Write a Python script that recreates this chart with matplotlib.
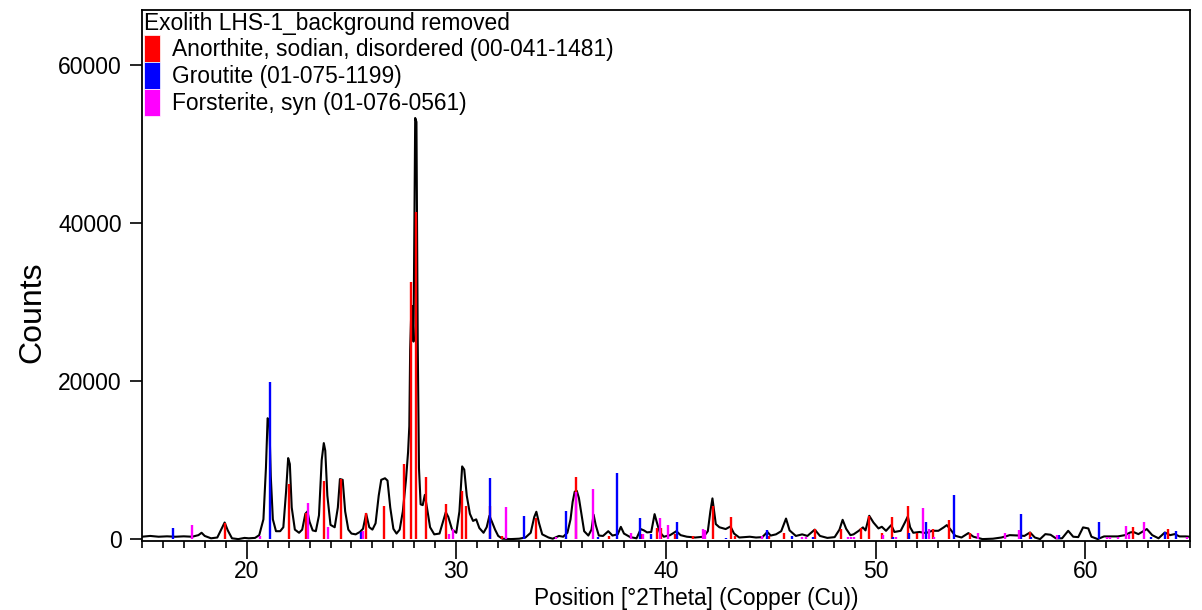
import matplotlib.pyplot as plt
from matplotlib.patches import Patch
from matplotlib.ticker import MultipleLocator

plt.rcParams['font.family'] = ['Liberation Sans', 'DejaVu Sans']

# ---------- measured pattern (2theta, counts) ----------
two_theta = [15.0, 15.4, 15.8, 16.2, 16.6, 17.0, 17.4, 17.7, 17.85, 18.0, 18.3, 18.6, 18.8, 18.95, 19.1,
             19.3, 19.6, 19.9, 20.1, 20.4, 20.6, 20.8, 20.92, 21.0, 21.08, 21.15, 21.25, 21.4, 21.6, 21.75,
             21.88, 21.98, 22.06, 22.15, 22.3, 22.5, 22.65, 22.8, 22.9, 23.0, 23.15, 23.3, 23.45, 23.58,
             23.68, 23.75, 23.85, 24.0, 24.2, 24.35, 24.45, 24.58, 24.7, 24.85, 25.0, 25.2, 25.4, 25.55,
             25.7, 25.85, 26.0, 26.15, 26.3, 26.42, 26.6, 26.72, 26.85, 27.0, 27.15, 27.3, 27.45, 27.6,
             27.7, 27.76, 27.8, 27.85, 27.9, 27.96, 28.0, 28.04, 28.1, 28.16, 28.22, 28.3, 28.4, 28.5,
             28.6, 28.75, 28.95, 29.2, 29.4, 29.5, 29.62, 29.8, 30.0, 30.15, 30.28, 30.38, 30.5, 30.65,
             30.8, 30.95, 31.1, 31.3, 31.45, 31.58, 31.7, 31.85, 32.0, 32.2, 32.6, 33.0, 33.3, 33.55,
             33.72, 33.82, 33.95, 34.1, 34.4, 34.6, 34.9, 35.1, 35.3, 35.45, 35.55, 35.65, 35.75, 35.85,
             35.95, 36.1, 36.3, 36.45, 36.55, 36.65, 36.8, 37.0, 37.25, 37.45, 37.7, 37.85, 38.0, 38.3,
             38.6, 38.8, 38.95, 39.1, 39.3, 39.46, 39.58, 39.7, 39.9, 40.2, 40.5, 40.7, 41.0, 41.4, 41.8,
             42.0, 42.12, 42.22, 42.38, 42.55, 42.85, 43.08, 43.25, 43.5, 44.0, 44.3, 44.6, 44.84, 45.0,
             45.25, 45.5, 45.73, 45.9, 46.2, 46.5, 46.75, 47.1, 47.35, 47.7, 48.05, 48.28, 48.43, 48.6,
             48.8, 48.95, 49.2, 49.4, 49.52, 49.7, 49.9, 50.14, 50.3, 50.5, 50.75, 50.9, 51.2, 51.4,
             51.54, 51.65, 51.8, 52.1, 52.4, 52.7, 53.0, 53.25, 53.4, 53.56, 53.8, 54.1, 54.43, 54.67,
             55.1, 55.6, 56.0, 56.2, 56.4, 56.85, 57.1, 57.37, 57.6, 57.85, 58.1, 58.35, 58.6, 58.9,
             59.19, 59.43, 59.67, 59.9, 60.15, 60.3, 60.6, 60.9, 61.56, 61.9, 62.15, 62.3, 62.54, 62.94,
             63.2, 63.5, 63.8, 64.05, 64.27, 64.5, 64.8, 65.0]
counts = [300, 400, 300, 350, 300, 350, 300, 500, 800, 400, 100, 200, 1300, 2100, 1100,
          100, 0, 150, 100, 150, 500, 2500, 9000, 15300, 15000, 8000, 2500, 1000, 1000, 1500,
          6000, 10250, 9500, 4000, 1200, 800, 1200, 3200, 3500, 2200, 1100, 1000, 3000, 10000,
          12150, 11200, 5500, 1800, 1500, 4000, 7600, 7500, 3500, 1200, 700, 600, 900, 1300,
          3200, 1500, 1200, 2000, 5500, 7500, 7700, 7400, 4000, 1300, 700, 1200, 3500, 7500,
          11000, 14300, 24000, 28500, 29500, 25000, 40000, 53300, 52800, 25000, 9000, 4400, 4300, 5600,
          4000, 1500, 600, 700, 2500, 3400, 2800, 1200, 800, 3500, 9200, 8800, 5500, 3200,
          2300, 2500, 1400, 800, 1500, 2950, 2200, 1200, 400, 50, 0, 50, 200, 800,
          2800, 3460, 2000, 600, 200, 50, 400, 300, 800, 2500, 4700, 6000, 6100, 5200,
          3500, 1000, 450, 1200, 3100, 1800, 450, 400, 1000, 450, 600, 1550, 700, 250,
          100, 1270, 1100, 850, 900, 3160, 2000, 900, 300, 500, 1000, 500, 300, 200, 300,
          1000, 3500, 5150, 1900, 1500, 1270, 1600, 700, 200, 300, 200, 250, 900, 450,
          600, 1000, 2600, 1100, 400, 600, 400, 1200, 400, 150, 250, 1200, 2440, 1300,
          500, 600, 1050, 1480, 1100, 2950, 2100, 1350, 1560, 1050, 1770, 900, 1050, 2100,
          2870, 1500, 800, 900, 760, 1050, 1050, 1480, 1770, 1270, 420, 200, 760, 300,
          0, 50, 200, 340, 500, 450, 400, 840, 200, 0, 630, 550, 100, 100,
          1050, 300, 250, 1480, 1350, 300, 0, 340, 340, 500, 840, 900, 630, 1270,
          500, 100, 840, 500, 630, 340, 340, 300]

# ---------- reference patterns (stick positions, heights) ----------
anorthite_pos = [18.95, 22.03, 22.84, 23.68, 24.52, 25.70, 26.54, 27.52, 27.83, 28.10, 28.56, 29.51,
                 30.27, 30.46, 31.59, 32.16, 33.81, 35.71, 37.29, 38.84, 39.59, 39.78, 40.42, 41.30,
                 42.25, 43.10, 43.29, 44.90, 45.65, 47.10, 48.37, 49.29, 49.70, 50.30, 50.80, 51.57,
                 51.97, 52.76, 53.52, 54.51, 57.37, 62.29, 63.95]
anorthite_h = [2000, 6960, 3290, 7380, 7600, 3290, 4170, 9500, 32600, 41400, 7850, 4430,
               6120, 4170, 4170, 420, 2700, 7800, 340, 600, 1350, 1350, 700, 340,
               4140, 2740, 340, 340, 760, 1270, 1270, 1350, 2900, 760, 2740, 4140,
               760, 1270, 2440, 760, 840, 1560, 1270]

groutite_pos = [16.48, 21.10, 25.45, 31.63, 33.25, 35.24, 36.76, 37.68, 38.76, 39.30, 40.52, 42.89,
                44.81, 46.00, 47.02, 50.84, 51.59, 52.41, 53.76, 56.92, 57.40, 58.77, 60.67, 63.16,
                63.80, 64.35]
groutite_h = [1350, 19900, 900, 7680, 2910, 3540, 300, 8400, 2650, 600, 2110, 200,
              1180, 340, 300, 300, 760, 2110, 5570, 3160, 300, 500, 2190, 300,
              930, 1050]

forsterite_pos = [17.41, 20.62, 22.92, 23.90, 25.55, 29.67, 29.86, 32.37, 34.75, 35.70, 36.54, 38.32,
                  38.89, 39.70, 40.10, 41.78, 41.86, 44.60, 46.50, 46.70, 48.70, 48.85, 48.95, 50.35,
                  50.98, 52.27, 52.56, 52.80, 54.90, 56.17, 56.84, 58.67, 61.05, 61.18, 61.57, 61.93,
                  62.10, 62.79, 64.85]
forsterite_h = [1770, 400, 4560, 1500, 1050, 600, 1270, 4090, 300, 5900, 6330, 720,
                600, 2650, 1810, 1270, 1100, 340, 300, 300, 300, 300, 300, 500,
                300, 3880, 1270, 300, 760, 760, 1140, 500, 300, 300, 300, 1720,
                600, 2190, 300]

sample_name = "Exolith LHS-1_background removed"
phase_names = ["Anorthite, sodian, disordered (00-041-1481)",
               "Groutite (01-075-1199)",
               "Forsterite, syn (01-076-0561)"]
phase_colors = ["#FF0000", "#0000FF", "#FF00FF"]

# ---------- chart ----------
fig = plt.figure(figsize=(12.02, 6.10), dpi=100)
ax = fig.add_axes([0.118, 0.113, 0.872, 0.871])

ax.plot(two_theta, counts, color="black", linewidth=1.5, zorder=2)

ax.vlines(anorthite_pos, 0, anorthite_h, color=phase_colors[0], linewidth=1.7, zorder=3)
ax.vlines(groutite_pos, 0, groutite_h, color=phase_colors[1], linewidth=1.7, zorder=3)
ax.vlines(forsterite_pos, 0, forsterite_h, color=phase_colors[2], linewidth=1.7, zorder=3)

ax.set_xlim(15, 65)
ax.set_ylim(-250, 67000)

ax.xaxis.set_major_locator(MultipleLocator(10))
ax.xaxis.set_minor_locator(MultipleLocator(1))
ax.set_yticks([0, 20000, 40000, 60000])

ax.tick_params(axis="x", which="major", direction="out", length=13, width=1.2, labelsize=16.5, pad=0.8)
ax.tick_params(axis="x", which="minor", direction="out", length=5, width=1.2)
ax.tick_params(axis="y", which="major", direction="out", length=8.5, width=1.2, labelsize=16.5, pad=6)

for s in ax.spines.values():
    s.set_linewidth(1.3)

ax.set_xlabel("Position [°2Theta] (Copper (Cu))", fontsize=16.3)
ax.xaxis.set_label_coords(0.529, -0.087)
ax.set_ylabel("Counts", fontsize=23)
ax.yaxis.set_label_coords(-0.09, 0.43)

handles = [Patch(facecolor=c, edgecolor="white", linewidth=0.5) for c in phase_colors]
leg = ax.legend(handles, phase_names, title=sample_name, loc="upper left",
                bbox_to_anchor=(0, 1), frameon=False, fontsize=16.4, title_fontsize=16.4,
                handlelength=0.68, handleheight=1.45, handletextpad=0.55, labelspacing=0.0,
                borderpad=0.1, borderaxespad=0, alignment="left")

plt.savefig("out.png", dpi=100)
plt.close()
